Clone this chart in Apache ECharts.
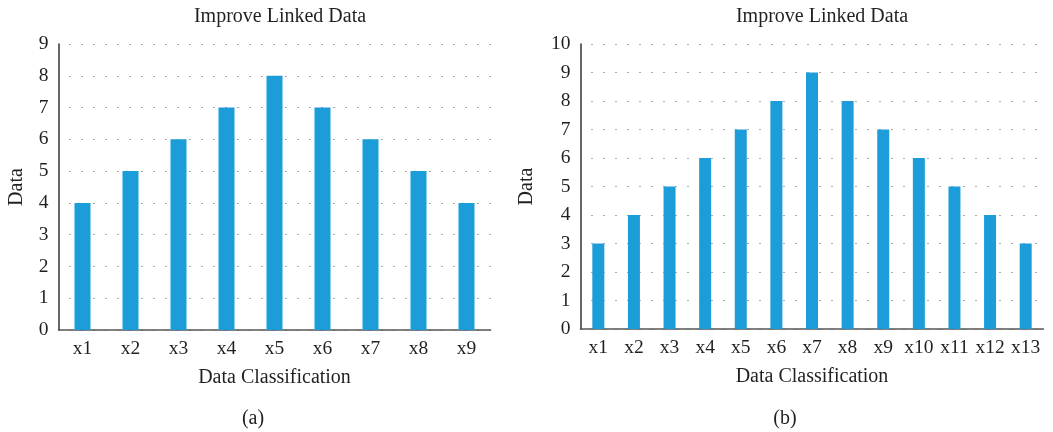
<!DOCTYPE html>
<html>
<head>
<meta charset="utf-8">
<script src="https://cdn.jsdelivr.net/npm/echarts@6/dist/echarts.min.js"></script>
<style>
  html, body { margin: 0; padding: 0; background: #fff; }
  #chart { width: 1053px; height: 432px; }
</style>
</head>
<body>
<div id="chart"></div>
<script>
// Panel (a): nine classes
const categoriesA = ['x1', 'x2', 'x3', 'x4', 'x5', 'x6', 'x7', 'x8', 'x9'];
const valuesA = [4, 5, 6, 7, 8, 7, 6, 5, 4];
// Panel (b): thirteen classes
const categoriesB = ['x1', 'x2', 'x3', 'x4', 'x5', 'x6', 'x7', 'x8', 'x9', 'x10', 'x11', 'x12', 'x13'];
const valuesB = [3, 4, 5, 6, 7, 8, 9, 8, 7, 6, 5, 4, 3];

const panelTitle = 'Improve Linked Data';
const xName = 'Data Classification';
const yName = 'Data';
const captions = ['(a)', '(b)'];

const FONT = '"Liberation Serif", "DejaVu Serif", serif';
const TEXT = '#231f20';
const BAR = '#1c9dd9';
const SIZE = 20;
const TICK_SIZE = 19.5;

function xAxis(gridIndex, data) {
  return {
    type: 'category', gridIndex, data,
    name: xName, nameLocation: 'middle', nameGap: 38,
    nameTextStyle: { fontFamily: FONT, fontSize: SIZE, color: TEXT },
    axisLine: { lineStyle: { color: '#555', width: 1.5 } },
    axisTick: { show: false },
    axisLabel: { fontFamily: FONT, fontSize: TICK_SIZE, color: TEXT, margin: 9,
      interval: 0, hideOverlap: false }
  };
}
function yAxis(gridIndex, max, gap) {
  return {
    type: 'value', gridIndex, min: 0, max, interval: 1,
    name: yName, nameLocation: 'middle', nameGap: gap,
    nameTextStyle: { fontFamily: FONT, fontSize: SIZE, color: TEXT },
    axisLine: { show: true, lineStyle: { color: '#333', width: 1.5 } },
    axisTick: { show: false },
    axisLabel: { fontFamily: FONT, fontSize: TICK_SIZE, color: TEXT, margin: 10 },
    splitLine: { show: true, lineStyle: { color: '#555', width: 1, type: [1, 11], dashOffset: -11 } }
  };
}

function caption(text, x, y) {
  return { text, left: x, top: y, textAlign: 'center',
    textStyle: { fontFamily: FONT, fontSize: SIZE, fontWeight: 'normal', color: TEXT } };
}

const chart = echarts.init(document.getElementById('chart'), null, { renderer: 'canvas' });
chart.setOption({
  backgroundColor: '#fff',
  animation: false,
  title: [
    caption(panelTitle, 275, 2),
    caption(panelTitle, 817, 2),
    caption(captions[0], 248, 404),
    caption(captions[1], 780, 404)
  ],
  grid: [
    { left: 58.5, top: 44, width: 432, height: 286 },
    { left: 580.5, top: 44, width: 463, height: 285 }
  ],
  xAxis: [xAxis(0, categoriesA), xAxis(1, categoriesB)],
  yAxis: [yAxis(0, 9, 32), yAxis(1, 10, 44)],
  series: [
    { type: 'bar', xAxisIndex: 0, yAxisIndex: 0, data: valuesA, barWidth: 16,
      itemStyle: { color: BAR } },
    { type: 'bar', xAxisIndex: 1, yAxisIndex: 1, data: valuesB, barWidth: 12,
      itemStyle: { color: BAR } }
  ]
});
</script>
</body>
</html>
